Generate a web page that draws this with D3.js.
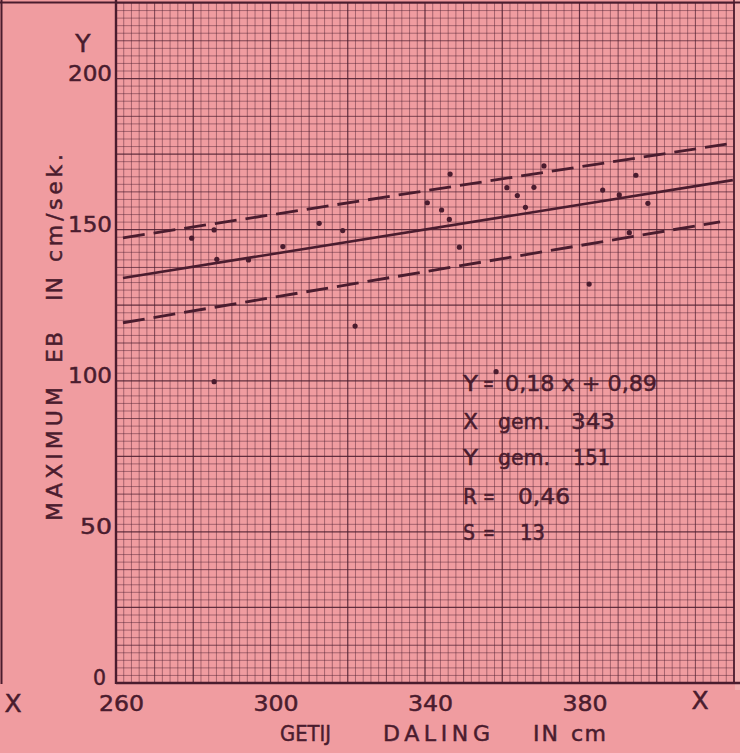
<!DOCTYPE html>
<html>
<head>
<meta charset="utf-8">
<script src="https://cdn.jsdelivr.net/npm/d3@7"></script>
<style>
  html, body { margin: 0; padding: 0; background: #f09ca0; }
  svg { display: block; }
  text { font-family: "DejaVu Sans", sans-serif; fill: #4a1c2e; stroke: #4a1c2e; stroke-width: 0.5px; }
</style>
</head>
<body>
<svg id="chart" width="740" height="753"></svg>
<script>
// ---- data ----
const xTicks = [260, 300, 340, 380];
const yTicks = [0, 50, 100, 150, 200];
const xTitleWords = ["GETIJ", "DALING", "IN", "cm"];
const yTitleWords = ["MAXIMUM", "EB", "IN", "cm/sek."];
const ptX = [279.6, 285.4, 286.1, 294.3, 303.2, 312.6, 318.7, 321.9, 285.4,
             346.5, 370.8, 394.6, 340.6, 344.3, 346.3, 361.2, 363.9, 368.2,
             366.0, 348.9, 386.0, 390.3, 397.7, 392.9, 382.5, 358.4];
const ptY = [147.2, 149.9, 140.2, 140.0, 144.4, 152.1, 149.7, 118.1, 99.7,
             168.4, 171.1, 168.0, 158.9, 156.5, 153.4, 163.9, 161.3, 164.0,
             157.4, 144.2, 163.1, 161.5, 158.7, 149.0, 132.0, 103.0];
const fitX = [261.8, 419.7];
const fitY = [134.0, 166.4];
const upperX = [261.8, 418.4];
const upperY = [147.3, 178.4];
const lowerX = [261.8, 416.4];
const lowerY = [119.2, 152.6];
const statLines = [["Y", "=", "0,18 x + 0,89"], ["X", "gem.", "343"], ["Y", "gem.", "151"], ["R", "=", "0,46"], ["S", "=", "13"]];

// ---- layout ----
const svg = d3.select("#chart");
const W = 740, H = 753;
const ink = "#4a1c2e";
const x = d3.scaleLinear().domain([260, 420]).range([116, 734]);
const y = d3.scaleLinear().domain([0, 225]).range([683, 3]);

svg.append("rect").attr("width", W).attr("height", H).attr("fill", "#f09ca0");
svg.append("rect").attr("x", 735).attr("y", 0).attr("width", 5).attr("height", 690).attr("fill", "#f3aeb0");

// grid
const g = svg.append("g");
const xMin = d3.range(260, 420.01, 2);
const yMin = d3.range(0, 225.01, 2.5);
xMin.forEach(v => {
  const k = Math.round((v - 260) / 2);
  const major = k % 10 === 0, mid = k % 5 === 0;
  g.append("line").attr("x1", x(v)).attr("x2", x(v)).attr("y1", y(225)).attr("y2", y(0))
    .attr("stroke", ink).attr("stroke-width", major ? 1.2 : (mid ? 1.0 : 0.75))
    .attr("stroke-opacity", major ? 0.85 : (mid ? 0.7 : 0.6));
});
yMin.forEach(v => {
  const k = Math.round(v / 2.5);
  const major = k % 10 === 0, mid = k % 5 === 0;
  g.append("line").attr("y1", y(v)).attr("y2", y(v)).attr("x1", x(260)).attr("x2", x(420))
    .attr("stroke", ink).attr("stroke-width", major ? 1.2 : (mid ? 1.0 : 0.75))
    .attr("stroke-opacity", major ? 0.85 : (mid ? 0.7 : 0.6));
});

// frame lines
svg.append("line").attr("x1", 0).attr("x2", W).attr("y1", 2.5).attr("y2", 2.5).attr("stroke", ink).attr("stroke-width", 2);
svg.append("line").attr("x1", 1.5).attr("x2", 1.5).attr("y1", 0).attr("y2", 684).attr("stroke", ink).attr("stroke-width", 2);
svg.append("line").attr("x1", x(420)).attr("x2", x(420)).attr("y1", 0).attr("y2", 684).attr("stroke", ink).attr("stroke-width", 1.6);
svg.append("line").attr("x1", x(260)).attr("x2", x(260)).attr("y1", 0).attr("y2", 684).attr("stroke", ink).attr("stroke-width", 2.4);
svg.append("line").attr("x1", x(260)).attr("x2", W).attr("y1", y(0)).attr("y2", y(0)).attr("stroke", ink).attr("stroke-width", 2.6);

// axes (labels only)
const xa = svg.append("g").attr("transform", `translate(0,${y(0)})`)
  .call(d3.axisBottom(x).tickValues(xTicks).tickSize(0).tickPadding(0).tickFormat(d3.format("d")));
xa.select(".domain").remove();
xa.selectAll("text").attr("y", 28).attr("dy", 0).attr("dx", 5)
  .attr("font-size", 21).attr("textLength", 45).attr("lengthAdjust", "spacingAndGlyphs")
  .style("font-family", "DejaVu Sans, sans-serif").attr("fill", ink);

const ya = svg.append("g").attr("transform", `translate(112,0)`)
  .call(d3.axisLeft(y).tickValues(yTicks).tickSize(0).tickPadding(0).tickFormat(d3.format("d")));
ya.select(".domain").remove();
ya.selectAll("text").attr("x", d => d === 0 ? -6 : 0).attr("dy", 1)
  .attr("font-size", 21)
  .attr("textLength", d => d === 0 ? 13 : (d < 100 ? 32 : 44)).attr("lengthAdjust", "spacingAndGlyphs")
  .style("font-family", "DejaVu Sans, sans-serif").attr("fill", ink);
ya.selectAll(".tick").attr("transform", d => `translate(0,${y(d) + 1})`);

// axis letters
svg.append("text").attr("x", 83).attr("y", 52).attr("text-anchor", "middle").attr("font-size", 25).text("Y");
svg.append("text").attr("x", 13).attr("y", 712).attr("text-anchor", "middle").attr("font-size", 25).text("X");
svg.append("text").attr("x", 700).attr("y", 709).attr("text-anchor", "middle").attr("font-size", 25).text("X");

// x title
const xWordPos = [[280, 51, "spacingAndGlyphs"], [383, 107, "spacing"], [533, 25, "spacing"], [571, 35, "spacing"]];
xTitleWords.forEach((w, i) => {
  svg.append("text").attr("x", xWordPos[i][0]).attr("y", 741).attr("font-size", 22)
    .attr("textLength", xWordPos[i][1]).attr("lengthAdjust", xWordPos[i][2]).text(w);
});

// y title (rotated words, start position along the axis from the bottom, length)
const yWordPos = [[521, 134], [363, 31], [301, 24], [262, 108]];
yTitleWords.forEach((w, i) => {
  svg.append("text").attr("transform", `translate(62,${yWordPos[i][0]}) rotate(-90)`).attr("font-size", 22)
    .attr("textLength", yWordPos[i][1]).attr("lengthAdjust", "spacing").text(w);
});

// lines
const line = d3.line().x(d => x(d[0])).y(d => y(d[1]));
svg.append("path").attr("d", line(d3.zip(fitX, fitY))).attr("fill", "none")
  .attr("stroke", ink).attr("stroke-width", 2.6);
svg.append("path").attr("d", line(d3.zip(upperX, upperY))).attr("fill", "none")
  .attr("stroke", ink).attr("stroke-width", 2.8).attr("stroke-dasharray", "22,9");
svg.append("path").attr("d", line(d3.zip(lowerX, lowerY))).attr("fill", "none")
  .attr("stroke", ink).attr("stroke-width", 2.8).attr("stroke-dasharray", "22,9");

// points
svg.append("g").selectAll("circle").data(d3.zip(ptX, ptY)).join("circle")
  .attr("cx", d => x(d[0])).attr("cy", d => y(d[1])).attr("r", 2.6).attr("fill", ink);

// stats annotation: per part [start x, width], baseline
const statPos = [
  [[[463, 15], [483, 11], [505, 152]], 391],
  [[[463, 15], [498, 52], [571, 44]], 429],
  [[[463, 15], [498, 52], [573, 37]], 465],
  [[[463, 14], [483, 12], [518, 52]], 504],
  [[[463, 12], [483, 12], [520, 25]], 540]
];
statLines.forEach((parts, i) => {
  parts.forEach((t, j) => {
    svg.append("text").attr("x", statPos[i][0][j][0]).attr("y", statPos[i][1]).attr("font-size", 22)
      .attr("textLength", statPos[i][0][j][1]).attr("lengthAdjust", "spacingAndGlyphs").text(t);
  });
});
</script>
</body>
</html>
